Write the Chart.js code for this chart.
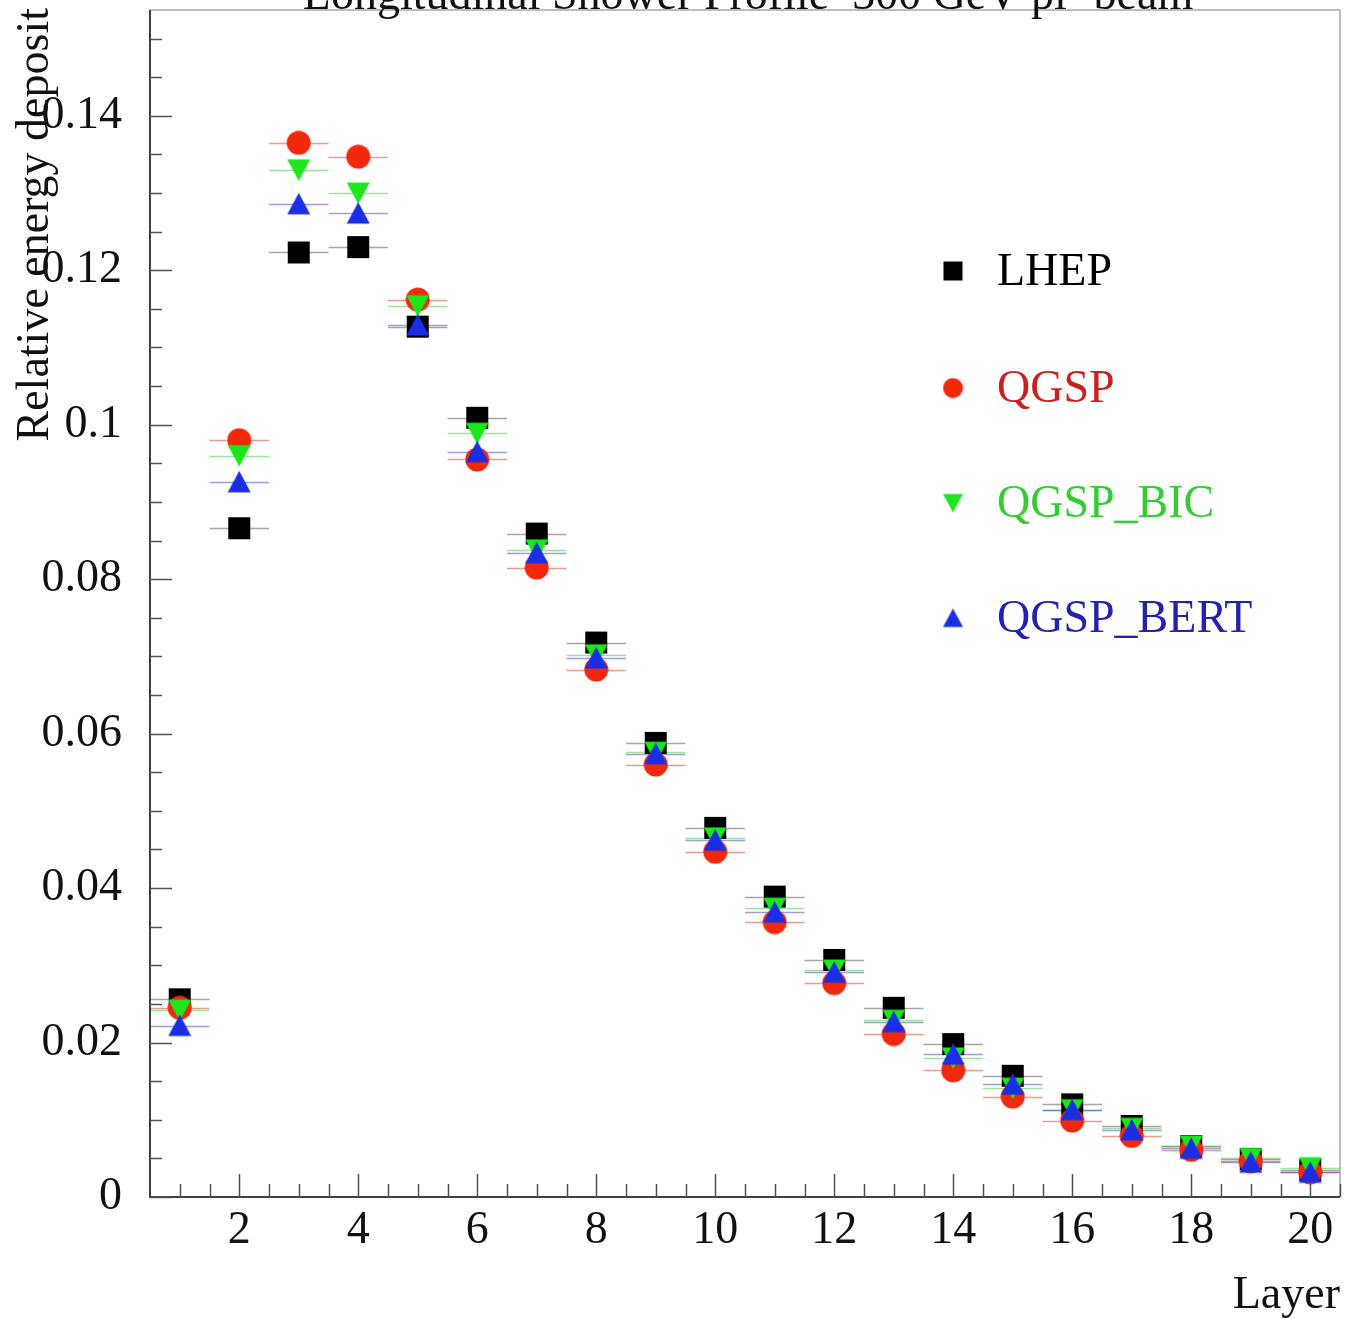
<!DOCTYPE html>
<html>
<head>
<meta charset="utf-8">
<script src="https://cdn.jsdelivr.net/npm/chart.js@4.4.1/dist/chart.umd.min.js"></script>
<style>
  html, body { margin: 0; padding: 0; background: #ffffff; }
  canvas { display: block; }
</style>
</head>
<body>
<canvas id="profile" width="1346" height="1319"></canvas>
<script>
const LAYERS = [1, 2, 3, 4, 5, 6, 7, 8, 9, 10, 11, 12, 13, 14, 15, 16, 17, 18, 19, 20];
const LHEP = [0.0256, 0.0866, 0.1223, 0.1230, 0.1127, 0.1009, 0.0859, 0.0718, 0.0588, 0.0478,
              0.0389, 0.0307, 0.0245, 0.0198, 0.0157, 0.0120, 0.0092, 0.0066, 0.0049, 0.0035];
const QGSP = [0.0245, 0.0980, 0.1365, 0.1347, 0.1162, 0.0955, 0.0815, 0.0683, 0.0560, 0.0447,
              0.0356, 0.0277, 0.0211, 0.0164, 0.0130, 0.0099, 0.0079, 0.0061, 0.0046, 0.0032];
const QGSP_BIC = [0.0242, 0.0960, 0.1330, 0.1300, 0.1154, 0.0989, 0.0838, 0.0702, 0.0576, 0.0465,
                  0.0374, 0.0294, 0.0229, 0.0180, 0.0141, 0.0113, 0.0089, 0.0066, 0.0050, 0.0038];
const QGSP_BERT = [0.0222, 0.0926, 0.1286, 0.1274, 0.1129, 0.0965, 0.0834, 0.0698, 0.0574, 0.0462,
                   0.0369, 0.0291, 0.0227, 0.0185, 0.0146, 0.0113, 0.0087, 0.0063, 0.0045, 0.0032];
const SERIES_NAMES = ['LHEP', 'QGSP', 'QGSP_BIC', 'QGSP_BERT'];
const TITLE = 'Longitudinal Shower Profile  300 GeV pi- beam';
const X_TITLE = 'Layer';
const Y_TITLE = 'Relative energy deposit';

const FONT = '"Liberation Serif", "DejaVu Serif", serif';
const FONT_SIZE = 46;

// marker looks: colour of the marker, colour of the legend text, shape
const STYLES = [
    { marker: '#000000', text: '#000000', bar: 'rgba(0,0,0,0.35)', shape: 'square' },
    { marker: '#f2280c', text: '#cc2020', bar: 'rgba(210,60,40,0.5)', shape: 'circle' },
    { marker: '#1ee61e', text: '#33cc33', bar: 'rgba(60,200,60,0.5)', shape: 'down' },
    { marker: '#1a2ee6', text: '#2222b0', bar: 'rgba(40,40,200,0.45)', shape: 'up' }
];

// small offscreen canvases used as point styles (centered on the point)
function makeMarker(shape, color, size) {
    const c = document.createElement('canvas');
    c.width = size;
    c.height = size;
    const g = c.getContext('2d');
    g.fillStyle = color;
    const h = size / 2;
    g.beginPath();
    if (shape === 'square') {
        g.rect(1, 1, size - 2, size - 2);
    } else if (shape === 'circle') {
        g.arc(h, h, h - 0.5, 0, Math.PI * 2);
    } else if (shape === 'up') {
        g.moveTo(h, 1);
        g.lineTo(size - 0.5, size - 1.5);
        g.lineTo(0.5, size - 1.5);
    } else {
        g.moveTo(0.5, 1.5);
        g.lineTo(size - 0.5, 1.5);
        g.lineTo(h, size - 1);
    }
    g.closePath();
    g.fill();
    return c;
}

const seriesValues = [LHEP, QGSP, QGSP_BIC, QGSP_BERT];
const pointImages = STYLES.map(s => makeMarker(s.shape, s.marker, s.shape === 'circle' ? 25 : 24));
const legendImages = STYLES.map(s => makeMarker(s.shape, s.marker, 21));

// ---------------------------------------------------------
// frame, ticks, error bars, titles and legend
// ---------------------------------------------------------
const rootLook = {
    id: 'rootLook',
    beforeDatasetsDraw(chart) {
        const { ctx, chartArea: a, scales: { x, y } } = chart;
        ctx.save();

        // horizontal bin-width bars (layer +- 0.5)
        ctx.lineWidth = 1.5;
        seriesValues.forEach((vals, si) => {
            ctx.strokeStyle = STYLES[si].bar;
            vals.forEach((v, i) => {
                const py = Math.round(y.getPixelForValue(v)) + 0.5;
                ctx.beginPath();
                ctx.moveTo(x.getPixelForValue(LAYERS[i] - 0.5), py);
                ctx.lineTo(x.getPixelForValue(LAYERS[i] + 0.5), py);
                ctx.stroke();
            });
        });

        // top and right frame
        ctx.strokeStyle = '#a8a8a8';
        ctx.lineWidth = 1.5;
        ctx.beginPath();
        ctx.moveTo(a.left, a.top);
        ctx.lineTo(a.right, a.top);
        ctx.lineTo(a.right, a.bottom);
        ctx.stroke();

        // left and bottom axes
        ctx.strokeStyle = '#404040';
        ctx.lineWidth = 2;
        ctx.beginPath();
        ctx.moveTo(a.left, a.top);
        ctx.lineTo(a.left, a.bottom);
        ctx.lineTo(a.right, a.bottom);
        ctx.stroke();

        // inward ticks
        ctx.lineWidth = 1.5;
        ctx.strokeStyle = '#505050';
        for (let k = 0; k * 0.005 <= y.max + 1e-9; k++) {
            const py = Math.round(y.getPixelForValue(k * 0.005)) + 0.5;
            const len = k % 4 === 0 ? 22 : 12;
            ctx.beginPath();
            ctx.moveTo(a.left, py);
            ctx.lineTo(a.left + len, py);
            ctx.stroke();
        }
        for (let k = 2; k * 0.5 <= x.max + 1e-9; k++) {
            const px = Math.round(x.getPixelForValue(k * 0.5)) + 0.5;
            const len = k % 4 === 0 ? 23 : 13;
            ctx.beginPath();
            ctx.moveTo(px, a.bottom);
            ctx.lineTo(px, a.bottom - len);
            ctx.stroke();
        }
        ctx.restore();
    },
    afterDraw(chart) {
        const { ctx, chartArea: a } = chart;
        ctx.save();
        ctx.fillStyle = '#111111';
        ctx.font = FONT_SIZE + 'px ' + FONT;

        // title, its upper part is cut by the top of the picture
        ctx.textAlign = 'center';
        ctx.textBaseline = 'alphabetic';
        ctx.fillText(TITLE, 748, 9);

        // x title
        ctx.textAlign = 'right';
        ctx.fillText(X_TITLE, a.right, 1308);

        // y title
        ctx.save();
        ctx.translate(48, 8);
        ctx.rotate(-Math.PI / 2);
        ctx.textAlign = 'right';
        ctx.fillText(Y_TITLE, 0, 0);
        ctx.restore();

        // legend
        const rowsY = [271, 388, 503, 618];
        ctx.textAlign = 'left';
        ctx.textBaseline = 'middle';
        SERIES_NAMES.forEach((name, i) => {
            const img = legendImages[i];
            ctx.drawImage(img, 953 - img.width / 2, rowsY[i] - img.height / 2);
            ctx.fillStyle = STYLES[i].text;
            ctx.fillText(name, 997, rowsY[i] + 2);
        });
        ctx.restore();
    }
};

function fmtY(v) {
    const k = Math.round(v * 1000);
    if (k % 20 !== 0) return '';
    return String(Number((k / 1000).toFixed(3)));
}

function fmtX(v) {
    if (Math.abs(v - Math.round(v)) > 1e-6) return '';
    const n = Math.round(v);
    return n % 2 === 0 && n > 0 ? String(n) : '';
}

const datasets = SERIES_NAMES.map((name, si) => ({
    label: name,
    data: LAYERS.map((l, i) => ({ x: l, y: seriesValues[si][i] })),
    pointStyle: pointImages[si],
    pointRadius: 12,
    showLine: false,
    order: 4 - si     // LHEP drawn first, QGSP_BERT on top
}));

new Chart(document.getElementById('profile'), {
    type: 'scatter',
    data: { datasets },
    options: {
        responsive: false,
        animation: false,
        layout: { autoPadding: false, padding: { top: 10, right: 6, left: 0, bottom: 0 } },
        plugins: {
            legend: { display: false },
            tooltip: { enabled: false }
        },
        scales: {
            x: {
                type: 'linear',
                min: 0.5,
                max: 20.5,
                grid: { display: false, drawTicks: false },
                border: { display: false },
                ticks: {
                    stepSize: 0.5,
                    autoSkip: false,
                    maxRotation: 0,
                    padding: 6,
                    color: '#111111',
                    font: { family: FONT, size: FONT_SIZE },
                    callback: v => fmtX(v)
                },
                afterFit: s => {
                    s.height = 122;
                    s.paddingLeft = 0;
                    s.paddingRight = 0;
                }
            },
            y: {
                min: 0,
                max: 0.1537,
                grid: { display: false, drawTicks: false },
                border: { display: false },
                ticks: {
                    stepSize: 0.02,
                    autoSkip: false,
                    padding: 28,
                    color: '#111111',
                    font: { family: FONT, size: FONT_SIZE },
                    callback: v => fmtY(v)
                },
                afterFit: s => {
                    s.width = 150;
                    s.paddingTop = 0;
                    s.paddingBottom = 0;
                }
            }
        }
    },
    plugins: [rootLook]
});
</script>
</body>
</html>
